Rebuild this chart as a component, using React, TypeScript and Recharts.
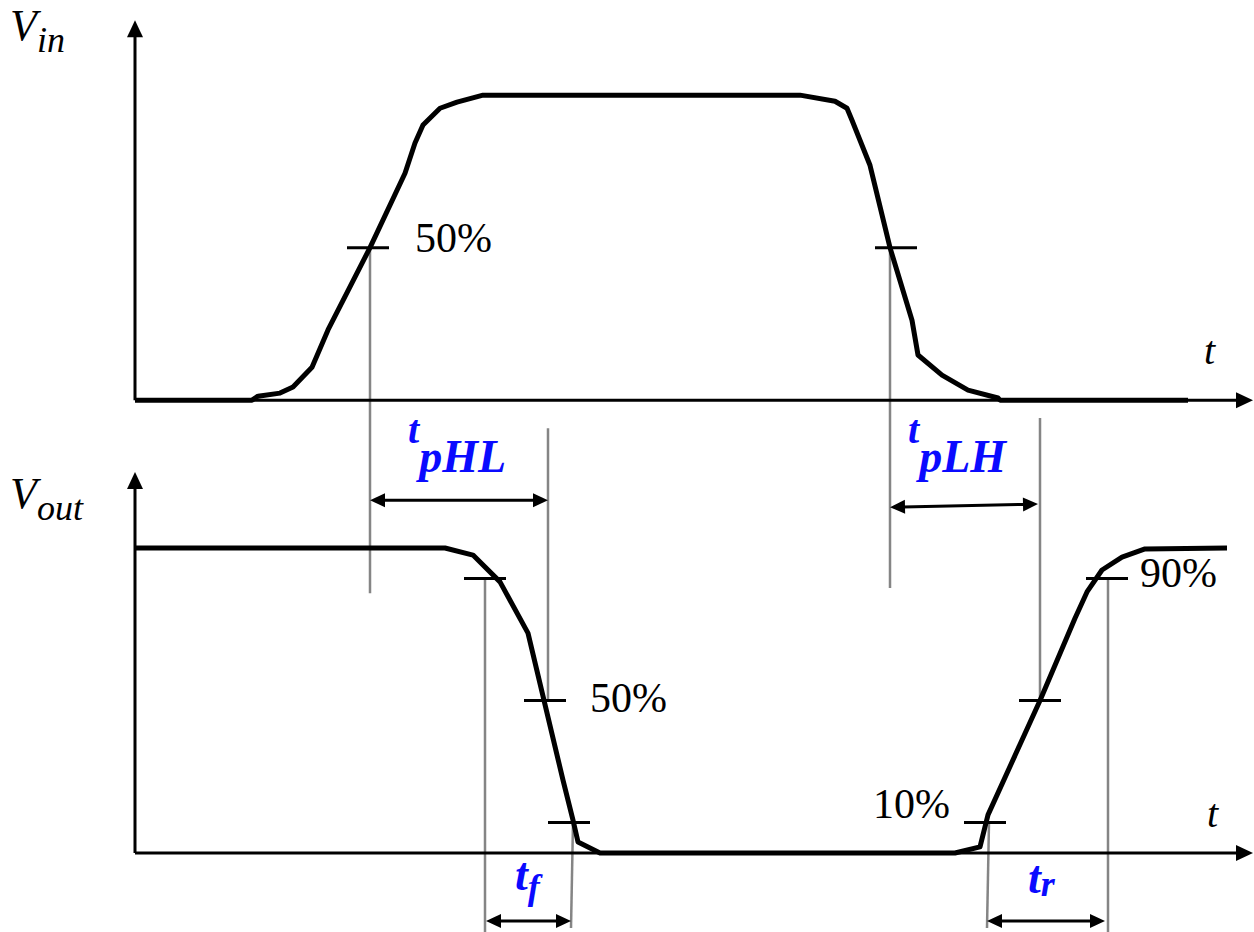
import { LineChart, Line, XAxis, YAxis, ReferenceLine, ReferenceDot } from 'recharts';

// Time in ns, levels normalised to the supply (0..1)
const vinTime = [0, 11.7, 12.3, 14.5, 15.8, 17.7, 19.3, 23.5, 27.0, 28.0, 28.8, 30.5, 32.2, 34.8, 66.5, 70.0, 71.2, 71.7, 73.5, 75.5, 77.7, 78.3, 80.7, 83.3, 86.3, 86.5, 105.3];
const vinLevel = [0, 0, 0.013, 0.023, 0.043, 0.108, 0.23, 0.5, 0.744, 0.843, 0.902, 0.957, 0.977, 1, 1, 0.98, 0.957, 0.918, 0.77, 0.5, 0.262, 0.148, 0.082, 0.033, 0.007, 0, 0];

const voutTime = [0, 31.0, 33.8, 36.5, 39.3, 42.8, 43.8, 44.3, 46.5, 82.0, 84.5, 85.3, 90.5, 94.0, 95.2, 96.7, 98.7, 101.0, 109.2];
const voutLevel = [1, 1, 0.977, 0.889, 0.721, 0.239, 0.108, 0.036, 0, 0, 0.02, 0.125, 0.5, 0.77, 0.856, 0.928, 0.97, 0.997, 1];

// Vin sits above Vout on the shared vertical scale
const VIN_BASE = 1.485;
const T_END = 111.8;

// threshold crossings marked with a short tick: trace, time, level
const markTrace = ['in', 'in', 'out', 'out', 'out', 'out', 'out', 'out'];
const markTime = [23.3, 76.1, 35.0, 41.0, 43.4, 85.0, 90.5, 97.2];
const markLevel = [0.5, 0.5, 0.9, 0.5, 0.1, 0.1, 0.5, 0.9];

// grey guide lines (stacked units): time at top, time at bottom, top, bottom
const guideT1 = [23.5, 41.3, 75.5, 90.5, 35.0, 43.8, 85.4, 97.3];
const guideT2 = [23.5, 41.3, 75.5, 90.5, 35.0, 43.6, 85.2, 97.3];
const guideTop = [1.985, 1.393, 1.985, 1.426, 0.9, 0.1, 0.1, 0.9];
const guideBottom = [0.852, 0.5, 0.869, 0.5, -0.259, -0.246, -0.246, -0.259];

// measured intervals: tpHL, tpLH, tf, tr
const spanName = ['pHL', 'pLH', 'f', 'r'];
const spanStart = [23.5, 75.5, 35.1, 85.2];
const spanEnd = [41.3, 90.3, 43.6, 97.0];
const spanY1 = [1.157, 1.134, -0.223, -0.223];
const spanY2 = [1.157, 1.144, -0.223, -0.223];
const spanLabelT = [27.3, 77.3, 38.0, 89.3];
const spanLabelY = [1.344, 1.344, -0.121, -0.131];

const pctText = ['50%', '50%', '90%', '10%'];
const pctT = [28.0, 45.5, 100.5, 73.8];
const pctY = [1.97, 0.462, 0.872, 0.115];

const vinRows = vinTime.map((t, i) => ({ t, v: vinLevel[i] + VIN_BASE }));
const voutRows = voutTime.map((t, i) => ({ t, v: voutLevel[i] }));

const SERIF = 'Liberation Serif';
const BLUE = '#0a0aff';

const arrowShape = (both: boolean, len: number, half: number, width: number) => (p: any) => {
  const { x1, y1, x2, y2 } = p;
  const dx = x2 - x1;
  const dy = y2 - y1;
  const d = Math.hypot(dx, dy) || 1;
  const ux = dx / d;
  const uy = dy / d;
  const nx = -uy;
  const ny = ux;
  const head = (tx: number, ty: number, sx: number, sy: number) => {
    const bx = tx - sx * len;
    const by = ty - sy * len;
    return `${tx},${ty} ${bx + nx * half},${by + ny * half} ${bx - nx * half},${by - ny * half}`;
  };
  const sx1 = both ? x1 + ux * (len - 2) : x1;
  const sy1 = both ? y1 + uy * (len - 2) : y1;
  return (
    <g>
      <line x1={sx1} y1={sy1} x2={x2 - ux * (len - 2)} y2={y2 - uy * (len - 2)} stroke="#000" strokeWidth={width} />
      <polygon points={head(x2, y2, ux, uy)} fill="#000" />
      {both && <polygon points={head(x1, y1, -ux, -uy)} fill="#000" />}
    </g>
  );
};

const tickShape = (p: any) => (
  <line x1={p.cx - 21} x2={p.cx + 21} y1={p.cy} y2={p.cy} stroke="#000" strokeWidth={3} />
);

const axisArrow = arrowShape(false, 17, 8, 3);
const spanArrow = arrowShape(true, 15, 7, 3);

const symbol = (main: string, sub: string, size: number, subSize: number, drop: number, bold: boolean, color: string) => (p: any) => (
  <text
    x={p.cx}
    y={p.cy}
    fill={color}
    style={{ fontFamily: SERIF, fontStyle: 'italic', fontWeight: bold ? 700 : 400, fontSize: size }}
  >
    {main}
    <tspan dy={drop} style={{ fontSize: subSize }}>{sub}</tspan>
  </text>
);

const plain = (s: string, size: number, italic: boolean) => (p: any) => (
  <text x={p.cx} y={p.cy} fill="#000" style={{ fontFamily: SERIF, fontStyle: italic ? 'italic' : 'normal', fontSize: size }}>
    {s}
  </text>
);

const spanLabel = (name: string) =>
  name.length > 1 ? symbol('t', name, 40, 46, 29, true, BLUE) : symbol('t', name, 46, 36, name === 'f' ? 9 : 3, true, BLUE);

export default function App() {
  return (
    <div style={{ position: 'absolute', left: 0, top: 0, background: '#fff' }}>
      <LineChart width={1254} height={932} margin={{ top: 0, right: 0, bottom: 0, left: 0 }}>
        <XAxis type="number" dataKey="t" domain={[-13.5, 111.9]} allowDataOverflow hide />
        <YAxis type="number" domain={[-0.259, 2.797]} allowDataOverflow hide />

        {guideT1.map((t, i) => (
          <ReferenceLine
            key={`g${i}`}
            segment={[{ x: t, y: guideTop[i] }, { x: guideT2[i], y: guideBottom[i] }]}
            stroke="#858585"
            strokeWidth={2.5}
          />
        ))}

        {/* axes with arrow heads */}
        <ReferenceLine segment={[{ x: 0, y: VIN_BASE }, { x: 0, y: 2.731 }]} shape={axisArrow} />
        <ReferenceLine segment={[{ x: 0, y: VIN_BASE }, { x: T_END, y: VIN_BASE }]} shape={axisArrow} />
        <ReferenceLine segment={[{ x: 0, y: 0 }, { x: 0, y: 1.249 }]} shape={axisArrow} />
        <ReferenceLine segment={[{ x: 0, y: 0 }, { x: T_END, y: 0 }]} shape={axisArrow} />

        {spanName.map((n, i) => (
          <ReferenceLine
            key={`s${n}`}
            segment={[{ x: spanStart[i], y: spanY1[i] }, { x: spanEnd[i], y: spanY2[i] }]}
            shape={spanArrow}
          />
        ))}

        <Line data={vinRows} dataKey="v" type="linear" stroke="#000" strokeWidth={5} strokeLinejoin="round" dot={false} activeDot={false} isAnimationActive={false} />
        <Line data={voutRows} dataKey="v" type="linear" stroke="#000" strokeWidth={5} strokeLinejoin="round" dot={false} activeDot={false} isAnimationActive={false} />

        {markTime.map((t, i) => (
          <ReferenceDot
            key={`m${i}`}
            x={t}
            y={markLevel[i] + (markTrace[i] === 'in' ? VIN_BASE : 0)}
            shape={tickShape}
          />
        ))}

        {spanName.map((n, i) => (
          <ReferenceDot key={`l${n}`} x={spanLabelT[i]} y={spanLabelY[i]} shape={spanLabel(n)} />
        ))}

        {pctText.map((s, i) => (
          <ReferenceDot key={`p${i}`} x={pctT[i]} y={pctY[i]} shape={plain(s, 42, false)} />
        ))}

        <ReferenceDot x={-12.5} y={2.666} shape={symbol('V', 'in', 44, 36, 12, false, '#000')} />
        <ReferenceDot x={-12.5} y={1.131} shape={symbol('V', 'out', 44, 36, 12, false, '#000')} />
        <ReferenceDot x={106.9} y={1.603} shape={plain('t', 40, true)} />
        <ReferenceDot x={107.2} y={0.085} shape={plain('t', 40, true)} />
      </LineChart>
    </div>
  );
}
